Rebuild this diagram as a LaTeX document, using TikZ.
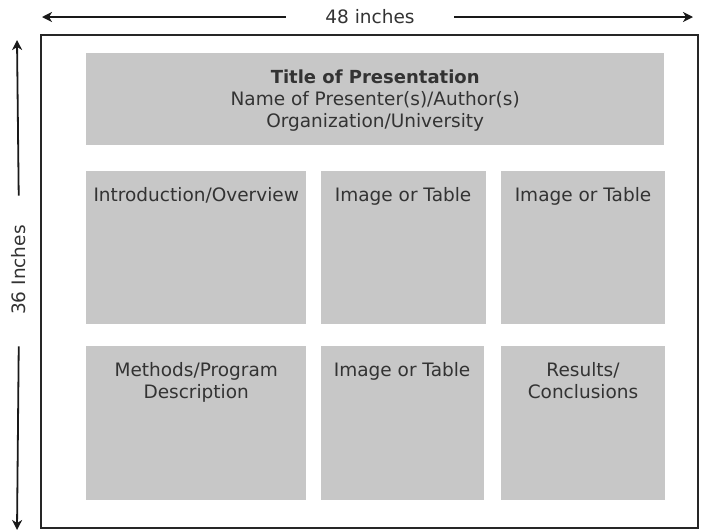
\documentclass[tikz,border=0pt]{standalone}
\usepackage{fontspec}
\setmainfont{DejaVu Sans}
\usetikzlibrary{positioning,arrows.meta}
\begin{document}
\begin{tikzpicture}[x=1pt,y=-1pt,
  every node/.style = {font=\fontsize{18.5}{22}\selectfont,
    text=black!80, align=center},
  panel/.style = {fill=black!22, anchor=north west,
    inner sep=0pt, minimum height=153},
  caption/.style = {anchor=north, at={([yshift=-13pt]#1.north)}},
  dim/.style = {draw=black!90, line width=1.8pt,
    -{Stealth[length=10pt,width=10pt,inset=3pt]}}]
\useasboundingbox (0,0) rectangle (703,531);
% frame
\draw[black!85, line width=1.4pt] (41,35) rectangle (698,528);
% dimensions
\node (width) at (370,17) {48 inches};
\coordinate (wl) at (42,17);
\coordinate (wr) at (693,17);
\draw[dim, shorten <=36pt] (width.west) -- (wl);
\draw[dim, shorten <=36pt] (width.east) -- (wr);
\node[rotate=90] (height) at (19,270) {36 Inches};
\coordinate (ht) at (17,40);
\coordinate (hb) at (17,530);
\draw[dim, shorten <=26pt] (height.east) -- (ht);
\draw[dim, shorten <=28pt] (height.west) -- (hb);
% panels
\node[panel, minimum width=578, minimum height=92] (title) at (86,53) {};
\node[panel, minimum width=220] (intro) at (86,171) {};
\node[panel, minimum width=165, right=14 of intro.north east, anchor=north west] (imga) {};
\node[panel, minimum width=164, right=15 of imga.north east, anchor=north west] (imgb) {};
\node[panel, minimum width=220, minimum height=154] (methods) at (86,346) {};
\node[panel, minimum width=163, minimum height=154, right=14 of methods.north east, anchor=north west] (imgc) {};
\node[panel, minimum width=164, minimum height=154, right=17 of imgc.north east, anchor=north west] (results) {};
% texts
\node[caption=title] {{\fontsize{18}{22}\selectfont\bfseries Title of Presentation}\\
  Name of Presenter(s)/Author(s)\\ Organization/University};
\node[caption=intro] {Introduction/Overview};
\node[caption=imga] {Image or Table};
\node[caption=imgb] {Image or Table};
\node[caption=methods] {Methods/Program\\ Description};
\node[caption=imgc] {Image or Table};
\node[caption=results] {Results/\\ Conclusions};
\end{tikzpicture}
\end{document}
